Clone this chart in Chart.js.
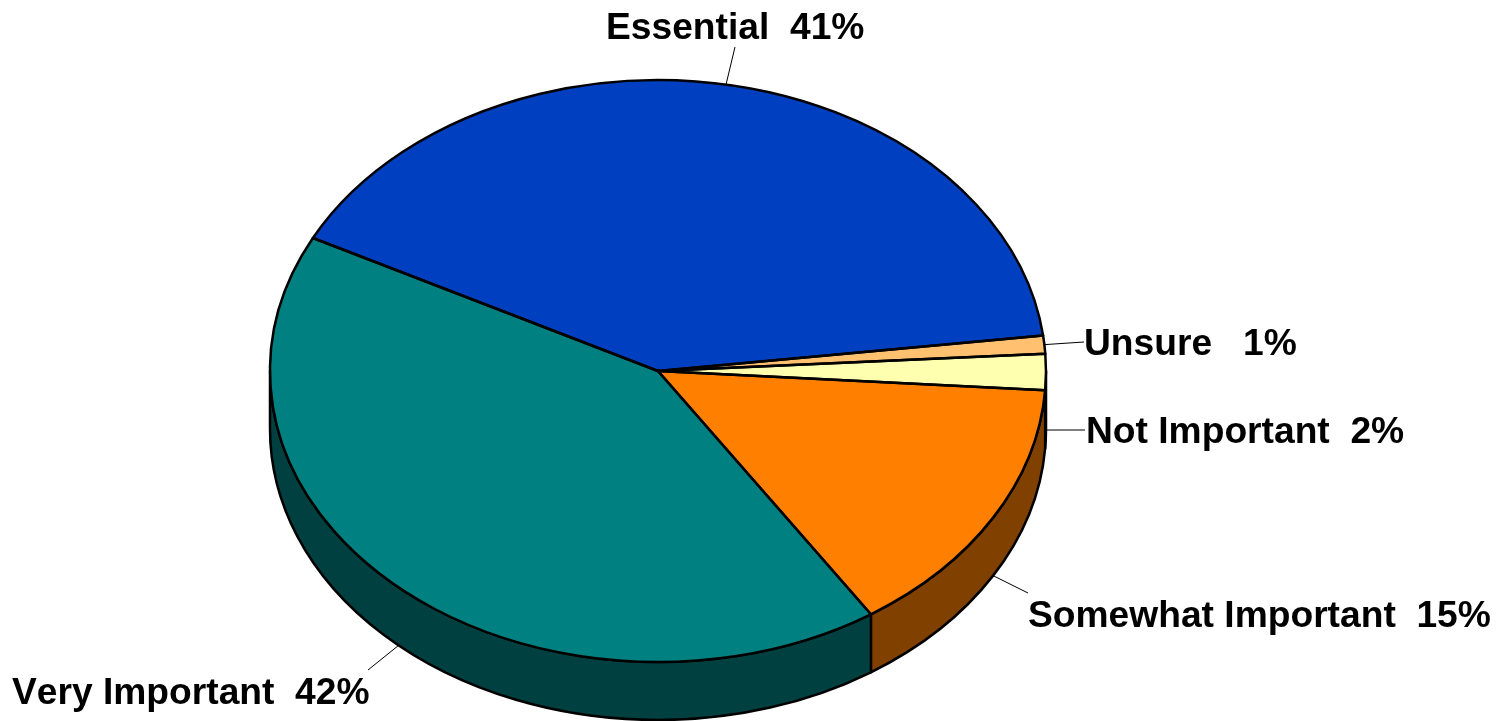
<!DOCTYPE html>
<html>
<head>
<meta charset="utf-8">
<style>html,body{margin:0;padding:0;background:#fff;overflow:hidden}canvas{display:block}</style>
<script src="https://cdn.jsdelivr.net/npm/chart.js@4"></script>
</head>
<body>
<canvas id="c" width="1512" height="721"></canvas>
<script>
const categories = ['Essential', 'Unsure', 'Not Important', 'Somewhat Important', 'Very Important'];
const values = [40.5, 1, 2, 14.7, 41.8];
const labelTexts = ['Essential  41%', 'Unsure   1%', 'Not Important  2%', 'Somewhat Important  15%', 'Very Important  42%'];
const topColors = ['#0040C0', '#FFC070', '#FFFFB0', '#FF8000', '#008080'];
const sideColors = ['#002060', '#806038', '#808058', '#804000', '#004040'];

const TILT = 0.75, DEPTH = 58, FONT = 'bold 37.2px "Liberation Sans", Arial, sans-serif';
const labelPos = [[606, 39], [1084, 355], [1086, 443], [1028, 627], [12, 704]];
const leaderEnd = [[735, 47], [1084, 342], [1085, 430], [1028, 593], [368, 670]];

const pie3d = {
  id: 'pie3d',
  beforeDatasetsDraw(chart) {
    const ctx = chart.ctx, arcs = chart.getDatasetMeta(0).data;
    const TAU = Math.PI * 2;
    arcs.forEach((a, i) => {
      const ry = a.outerRadius * TILT;
      const s0 = ((a.startAngle % TAU) + TAU) % TAU;
      const e0 = s0 + (a.endAngle - a.startAngle);
      [[0, Math.PI], [TAU, TAU + Math.PI]].forEach(([lo, hi]) => {
        const s = Math.max(s0, lo), e = Math.min(e0, hi);
        if (e <= s) return;
        ctx.beginPath();
        ctx.ellipse(a.x, a.y, a.outerRadius, ry, 0, s, e);
        ctx.ellipse(a.x, a.y + DEPTH, a.outerRadius, ry, 0, e, s, true);
        ctx.closePath();
        ctx.fillStyle = sideColors[i];
        ctx.fill();
        ctx.strokeStyle = '#000';
        ctx.lineWidth = 2.5;
        ctx.lineJoin = 'round';
        ctx.stroke();
      });
    });
  },
  beforeDatasetDraw(chart) {
    const ctx = chart.ctx, a = chart.getDatasetMeta(0).data[0];
    ctx.save();
    ctx.translate(a.x, a.y);
    ctx.scale(1, TILT);
    ctx.translate(-a.x, -a.y);
  },
  afterDatasetDraw(chart) {
    chart.ctx.restore();
  },
  afterDatasetsDraw(chart) {
    const ctx = chart.ctx, arcs = chart.getDatasetMeta(0).data;
    ctx.strokeStyle = '#000';
    ctx.lineWidth = 2.5;
    ctx.lineJoin = 'round';
    arcs.forEach(a => {
      ctx.beginPath();
      ctx.moveTo(a.x, a.y);
      ctx.ellipse(a.x, a.y, a.outerRadius, a.outerRadius * TILT, 0, a.startAngle, a.endAngle);
      ctx.closePath();
      ctx.stroke();
    });
    // leader lines and labels
    ctx.lineWidth = 1;
    ctx.strokeStyle = '#000';
    arcs.forEach((a, i) => {
      const mid = (a.startAngle + a.endAngle) / 2;
      const px = a.x + a.outerRadius * Math.cos(mid);
      const sin = Math.sin(mid);
      const py = a.y + a.outerRadius * TILT * sin + (sin > 0 ? DEPTH : 0);
      ctx.beginPath();
      ctx.moveTo(px, py);
      ctx.lineTo(leaderEnd[i][0], leaderEnd[i][1]);
      ctx.stroke();
    });
    ctx.fillStyle = '#000';
    ctx.font = FONT;
    ctx.fontKerning = 'none';
    ctx.textAlign = 'left';
    ctx.textBaseline = 'alphabetic';
    labelTexts.forEach((t, i) => ctx.fillText(t, labelPos[i][0], labelPos[i][1]));
  }
};

new Chart(document.getElementById('c'), {
  type: 'pie',
  data: {
    labels: categories,
    datasets: [{
      data: values,
      backgroundColor: topColors,
      borderWidth: 0,
      radius: 388,
      clip: false
    }]
  },
  options: {
    responsive: false,
    animation: false,
    rotation: 297.2,
    layout: { padding: { top: 21, right: 196, bottom: 0, left: 0 } },
    plugins: { legend: { display: false }, tooltip: { enabled: false } },
    events: []
  },
  plugins: [pie3d]
});
</script>
</body>
</html>
